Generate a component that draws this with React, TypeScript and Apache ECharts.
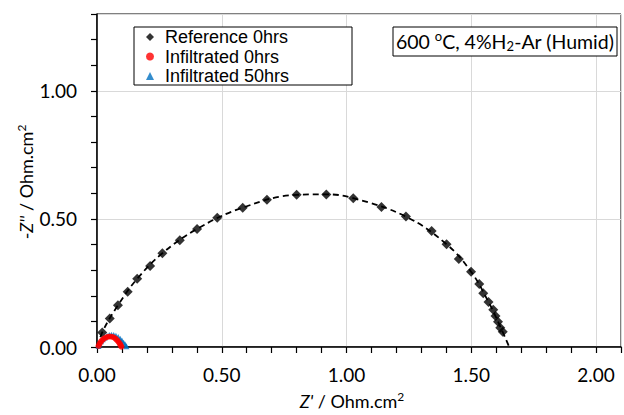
import React, { useEffect, useRef } from 'react';
import * as echarts from 'echarts';

// Reference 0hrs (Z', -Z'')
const referenceData: number[][] = [
  [0.021, 0.057], [0.051, 0.111], [0.084, 0.163], [0.123, 0.216], [0.161, 0.266],
  [0.213, 0.316], [0.262, 0.366], [0.332, 0.417], [0.401, 0.461], [0.482, 0.505],
  [0.584, 0.544], [0.681, 0.575], [0.800, 0.594], [0.919, 0.595], [1.027, 0.581],
  [1.140, 0.547], [1.238, 0.509], [1.341, 0.453], [1.401, 0.401], [1.450, 0.344],
  [1.499, 0.294], [1.532, 0.246], [1.548, 0.210], [1.569, 0.176], [1.588, 0.145],
  [1.597, 0.121], [1.607, 0.099], [1.616, 0.075], [1.626, 0.060],
];

// Dashed fit curve
const fitData: number[][] = [
  [0.004, 0.0], [0.021, 0.057], [0.084, 0.163], [0.161, 0.266], [0.262, 0.366],
  [0.401, 0.461], [0.584, 0.544], [0.800, 0.594], [0.919, 0.596], [1.027, 0.581],
  [1.238, 0.509], [1.401, 0.401], [1.499, 0.294], [1.569, 0.176], [1.616, 0.080],
  [1.652, 0.0],
];

// Infiltrated 0hrs
const infiltrated0Data: number[][] = [
  [0.006, 0.004], [0.010, 0.012], [0.015, 0.020], [0.021, 0.027], [0.028, 0.033],
  [0.036, 0.037], [0.044, 0.040], [0.052, 0.041], [0.060, 0.040], [0.068, 0.037],
  [0.075, 0.032], [0.081, 0.026], [0.087, 0.019], [0.092, 0.012], [0.095, 0.006],
  [0.098, 0.001],
];

// Infiltrated 50hrs
const infiltrated50Data: number[][] = [
  [0.006, 0.004], [0.010, 0.013], [0.016, 0.022], [0.023, 0.030], [0.031, 0.037],
  [0.040, 0.043], [0.049, 0.047], [0.058, 0.048], [0.067, 0.047], [0.076, 0.044],
  [0.085, 0.039], [0.093, 0.032], [0.100, 0.025], [0.107, 0.017], [0.113, 0.010],
  [0.118, 0.003],
];

const legendNames = ['Reference 0hrs', 'Infiltrated 0hrs', 'Infiltrated 50hrs'];
const X_MIN = 0, X_MAX = 2.1, Y_MIN = 0, Y_MAX = 1.3;
const MINOR_STEP = 0.1, MAJOR_STEP = 0.5;

const TICK_FONT = 'Lato';
const LEGEND_FONT = 'Liberation Sans';

const isMajor = (v: number) => Math.abs(v / MAJOR_STEP - Math.round(v / MAJOR_STEP)) < 1e-6;
const tickFormatter = (limit: number) => (v: number) =>
  isMajor(v) && v <= limit + 1e-9 ? v.toFixed(2) : '';

export default function App() {
  const ref = useRef<HTMLDivElement>(null);
  useEffect(() => {
    if (!ref.current) return;
    const chart = echarts.init(ref.current, undefined, { renderer: 'svg' });
    const axisLine = { onZero: false, lineStyle: { color: '#000', width: 1.5 } };
    const tickStyle = { show: true, inside: false, length: 6, lineStyle: { color: '#000', width: 1.2 } };
    const labelStyle = { fontFamily: TICK_FONT, fontSize: 19, color: '#000' };
    const splitStyle = { show: true, lineStyle: { color: '#d9d9d9', width: 1 } };
    chart.setOption({
      animation: false,
      backgroundColor: '#fff',
      grid: {
        left: 97, right: -7, top: 14, bottom: 68,
        show: true, borderColor: '#000', borderWidth: 1, backgroundColor: 'transparent',
      },
      xAxis: [
        {
          type: 'value', min: X_MIN, max: X_MAX, interval: MINOR_STEP, position: 'bottom',
          axisLine, axisTick: tickStyle,
          axisLabel: { ...labelStyle, margin: 18, formatter: tickFormatter(2.0) },
          splitLine: { show: false },
        },
        {
          type: 'value', min: X_MIN, max: X_MAX, interval: MAJOR_STEP, position: 'bottom',
          axisLine: { show: false }, axisTick: { show: false }, axisLabel: { show: false },
          splitLine: splitStyle,
        },
      ],
      yAxis: [
        {
          type: 'value', min: Y_MIN, max: Y_MAX, interval: MINOR_STEP, position: 'left',
          axisLine, axisTick: tickStyle,
          axisLabel: { ...labelStyle, margin: 20, formatter: tickFormatter(1.0) },
          splitLine: { show: false },
        },
        {
          type: 'value', min: Y_MIN, max: Y_MAX, interval: MAJOR_STEP, position: 'left',
          axisLine: { show: false }, axisTick: { show: false }, axisLabel: { show: false },
          splitLine: splitStyle,
        },
      ],
      legend: {
        data: [
          { name: legendNames[0], icon: 'diamond' },
          { name: legendNames[1], icon: 'circle' },
          { name: legendNames[2], icon: 'triangle' },
        ],
        orient: 'vertical',
        left: 146, top: 28,
        padding: 0,
        itemWidth: 8, itemHeight: 8, itemGap: 1.5,
        symbolKeepAspect: true,
        selectedMode: false,
        textStyle: { fontFamily: LEGEND_FONT, fontSize: 18, color: '#000', padding: [0, 0, 0, 6] },
        z: 10,
      },
      graphic: [
        {
          type: 'rect', z: 5,
          shape: { x: 134, y: 27, width: 218, height: 58 },
          style: { fill: '#fff', stroke: '#000', lineWidth: 1 },
        },
        {
          type: 'rect', z: 5,
          shape: { x: 393, y: 27, width: 224, height: 29 },
          style: { fill: '#fff', stroke: '#000', lineWidth: 1 },
        },
        {
          type: 'text', z: 6, x: 505, y: 41,
          style: {
            text: '{n|600 }{s|o}{n|C, 4%H}{b|2}{n|-Ar (Humid)}',
            align: 'center', verticalAlign: 'middle',
            fill: '#000',
            rich: {
              n: { fontFamily: TICK_FONT, fontSize: 19.5, fill: '#000' },
              s: { fontFamily: TICK_FONT, fontSize: 13, fill: '#000', padding: [0, 0, 10, 0] },
              b: { fontFamily: TICK_FONT, fontSize: 13, fill: '#000', padding: [10, 0, 0, 0] },
            },
          },
        },
        {
          type: 'text', z: 6, x: 352, y: 401,
          style: {
            text: "{i|Z'}{n| / Ohm.cm}{s|2}",
            align: 'center', verticalAlign: 'middle',
            fill: '#000',
            rich: {
              i: { fontFamily: TICK_FONT, fontSize: 18, fontStyle: 'italic', fill: '#000' },
              n: { fontFamily: TICK_FONT, fontSize: 18, fill: '#000' },
              s: { fontFamily: TICK_FONT, fontSize: 12, fill: '#000', padding: [0, 0, 9, 0] },
            },
          },
        },
        {
          type: 'text', z: 6, x: 26, y: 182, rotation: Math.PI / 2,
          style: {
            text: "{n|-}{i|Z''}{n| / Ohm.cm}{s|2}",
            align: 'center', verticalAlign: 'middle',
            fill: '#000',
            rich: {
              i: { fontFamily: TICK_FONT, fontSize: 18, fontStyle: 'italic', fill: '#000' },
              n: { fontFamily: TICK_FONT, fontSize: 18, fill: '#000' },
              s: { fontFamily: TICK_FONT, fontSize: 12, fill: '#000', padding: [0, 0, 9, 0] },
            },
          },
        },
      ],
      series: [
        {
          name: 'fit', type: 'line', data: fitData, smooth: 0.4, showSymbol: false,
          silent: true, clip: true, z: 2,
          lineStyle: { color: '#000', width: 1.8, type: [6, 4] },
        },
        {
          name: 'Reference 0hrs', type: 'scatter', data: referenceData,
          symbol: 'diamond', symbolSize: 10, clip: false, z: 3,
          itemStyle: { color: '#000' },
        },
        {
          name: 'Infiltrated 50hrs', type: 'scatter', data: infiltrated50Data,
          symbol: 'triangle', symbolSize: 6, clip: false, z: 3,
          itemStyle: { color: '#0070c0' },
        },
        {
          name: 'Infiltrated 0hrs', type: 'scatter', data: infiltrated0Data,
          symbol: 'circle', symbolSize: 6, clip: false, z: 4,
          itemStyle: { color: '#ff0000' },
        },
      ],
    });
    return () => chart.dispose();
  }, []);
  return (
    <div
      ref={ref}
      style={{ position: 'fixed', left: 0, top: 0, width: 624, height: 415, background: '#fff' }}
    />
  );
}
